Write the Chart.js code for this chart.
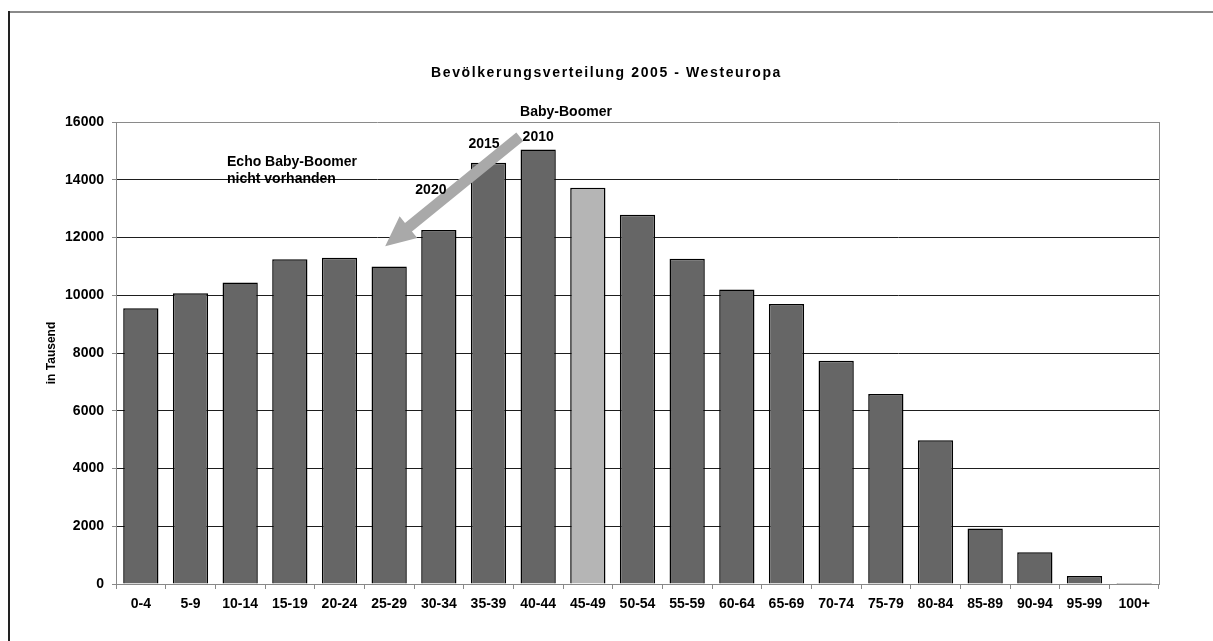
<!DOCTYPE html>
<html>
<head>
<meta charset="utf-8">
<script src="https://cdn.jsdelivr.net/npm/chart.js@4.4.1/dist/chart.umd.min.js"></script>
<style>
  html, body { margin: 0; padding: 0; background: #fff; }
  #wrap { width: 1213px; height: 641px; position: relative; }
</style>
</head>
<body>
<div id="wrap"><canvas id="chart"></canvas></div>
<script>
// age groups and population (in thousands)
var ageGroups = ['0-4', '5-9', '10-14', '15-19', '20-24', '25-29', '30-34', '35-39', '40-44', '45-49',
  '50-54', '55-59', '60-64', '65-69', '70-74', '75-79', '80-84', '85-89', '90-94', '95-99', '100+'];
var population = [9550, 10070, 10440, 11250, 11300, 11000, 12260, 14590, 15050, 13720,
  12790, 11260, 10200, 9700, 7730, 6580, 4980, 1920, 1100, 280, 35];
var yTicks = [0, 2000, 4000, 6000, 8000, 10000, 12000, 14000, 16000];
var highlightGroup = '45-49';

var chartTitle = 'Bevölkerungsverteilung 2005 - Westeuropa';
var yTitle = 'in Tausend';

// notes are placed in data units (category index, value)
var notes = [
  { text: 'Baby-Boomer', x: 8.56, y: 16210, align: 'center' },
  { text: '2010', x: 8.0, y: 15340, align: 'center' },
  { text: '2015', x: 6.91, y: 15100, align: 'center' },
  { text: '2020', x: 5.84, y: 13500, align: 'center' },
  { text: 'Echo Baby-Boomer', x: 1.735, y: 14480, align: 'left' },
  { text: 'nicht vorhanden', x: 1.735, y: 13880, align: 'left' }
];
var arrow = { from: [7.63, 15490], to: [4.92, 11700] };

var FONT = '"Liberation Sans", Arial, sans-serif';

var decor = {
  id: 'decor',
  beforeDraw: function(chart) {
    var c = chart.ctx;
    c.save();
    c.fillStyle = '#fff';
    c.fillRect(0, 0, chart.width, chart.height);
    c.lineWidth = 2;
    c.strokeStyle = '#8a8a8a';
    c.beginPath(); c.moveTo(8, 12); c.lineTo(chart.width, 12); c.stroke();
    c.strokeStyle = '#222';
    c.beginPath(); c.moveTo(9, 11); c.lineTo(9, chart.height); c.stroke();
    c.restore();
  },
  afterDatasetsDraw: function(chart) {
    var c = chart.ctx, xs = chart.scales.x, ys = chart.scales.y, a = chart.chartArea;
    c.save();
    // right edge of plot area
    c.strokeStyle = '#8a8a8a';
    c.lineWidth = 1;
    c.beginPath(); c.moveTo(a.right + 0.5, a.top); c.lineTo(a.right + 0.5, a.bottom); c.stroke();

    // big grey arrow
    var x0 = xs.getPixelForValue(arrow.from[0]), y0 = ys.getPixelForValue(arrow.from[1]);
    var x1 = xs.getPixelForValue(arrow.to[0]), y1 = ys.getPixelForValue(arrow.to[1]);
    var dx = x1 - x0, dy = y1 - y0, len = Math.hypot(dx, dy);
    var ux = dx / len, uy = dy / len, nx = -uy, ny = ux;
    var hw = 5.5, hh = 14, hl = 30;
    var bx = x1 - ux * hl, by = y1 - uy * hl;
    c.beginPath();
    c.moveTo(x0 + nx * hw, y0 + ny * hw);
    c.lineTo(bx + nx * hw, by + ny * hw);
    c.lineTo(bx + nx * hh, by + ny * hh);
    c.lineTo(x1, y1);
    c.lineTo(bx - nx * hh, by - ny * hh);
    c.lineTo(bx - nx * hw, by - ny * hw);
    c.lineTo(x0 - nx * hw, y0 - ny * hw);
    c.closePath();
    c.fillStyle = '#a9a9a9';
    c.fill();

    // notes
    c.fillStyle = '#000';
    c.font = 'bold 14px ' + FONT;
    c.textBaseline = 'alphabetic';
    notes.forEach(function(n) {
      c.textAlign = n.align;
      c.fillText(n.text, xs.getPixelForValue(n.x), ys.getPixelForValue(n.y));
    });

    // chart title
    c.letterSpacing = '1.6px';
    c.textAlign = 'center';
    c.fillText(chartTitle, chart.width / 2, 77);
    c.restore();
  }
};

new Chart(document.getElementById('chart'), {
  type: 'bar',
  data: {
    labels: ageGroups,
    datasets: [{
      data: population,
      backgroundColor: ageGroups.map(function(g) { return g === highlightGroup ? '#b5b5b5' : '#666666'; }),
      borderColor: '#000',
      borderWidth: 1.5,
      categoryPercentage: 1,
      barPercentage: 0.71
    }]
  },
  options: {
    responsive: true,
    maintainAspectRatio: false,
    animation: false,
    layout: { padding: { top: 122, right: 54, bottom: 0, left: 0 } },
    plugins: {
      legend: { display: false },
      tooltip: { enabled: false }
    },
    scales: {
      x: {
        offset: true,
        grid: { display: true, drawOnChartArea: false, drawTicks: true, tickLength: 5, tickColor: '#888', offset: true },
        border: { color: '#888', width: 1 },
        ticks: {
          font: { family: FONT, size: 14, weight: 'bold' },
          color: '#000',
          padding: 7,
          maxRotation: 0,
          autoSkip: false
        },
        afterFit: function(s) { s.height = 57; }
      },
      y: {
        min: 0,
        max: 16000,
        afterBuildTicks: function(s) { s.ticks = yTicks.map(function(v) { return { value: v }; }); },
        grid: {
          color: function(ctx) {
            var v = ctx.tick && ctx.tick.value;
            return (v === 0 || v === 16000) ? '#8a8a8a' : '#1e1e1e';
          },
          tickColor: '#888',
          tickLength: 4
        },
        border: { color: '#888', width: 1 },
        ticks: {
          font: { family: FONT, size: 14, weight: 'bold' },
          color: '#000',
          padding: 8,
          callback: function(v) { return String(v); }
        },
        title: {
          display: true,
          text: yTitle,
          font: { family: FONT, size: 12, weight: 'bold' },
          color: '#000',
          padding: { top: 44, bottom: 0 }
        },
        afterFit: function(s) { s.width = 116; }
      }
    }
  },
  plugins: [decor]
});
</script>
</body>
</html>
